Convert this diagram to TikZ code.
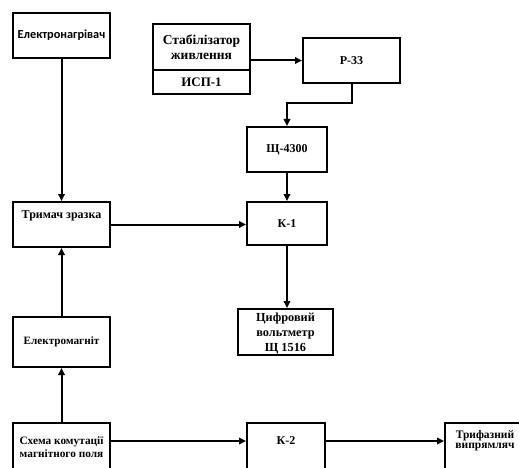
\documentclass[tikz,border=0pt]{standalone}
\usepackage{fontspec}
\setmainfont{Liberation Serif}
\newfontfamily\carlito{Carlito}
\usetikzlibrary{arrows.meta}

\begin{document}
\begin{tikzpicture}[x=1pt,y=-1pt,>={Triangle[length=7pt,width=6.5pt]},
	blok/.style={draw,line width=2pt,minimum width=97pt,minimum height=45pt,inner sep=1pt,align=center,font=\fontsize{12}{14}\selectfont\bfseries},
	link/.style={->,line width=2pt}]
	\path[use as bounding box,clip] (0,0) rectangle (519,468);
	
	\node[blok,font=\fontsize{12.3}{14}\selectfont\carlito\bfseries](HEATER) at (61.5,35.5) {Електронагрівач};
	\node[blok,minimum height=46pt,font=\fontsize{13.5}{14.5}\selectfont\bfseries](STAB) at (201.5,47) {Стабілізатор\\живлення};
	\node[blok,minimum height=24pt,font=\fontsize{13}{14}\selectfont\bfseries](ISP) at (201.5,82) {ИСП-1};
	\node[blok](R33) at (351.5,60.5) {Р-33};
	\node[blok,minimum width=80pt](SHCH) at (287,149.5) {Щ-4300};
	\node[blok,minimum width=80pt,minimum height=43pt](K1) at (287,223.5) {К-1};
	\node[blok,text depth=19pt](HOLDER) at (61.5,224.5) {Тримач зразка};
	\node[blok,minimum width=95pt,minimum height=46pt,text depth=0pt,font=\fontsize{12.3}{15}\selectfont\bfseries](VOLT) at (285.5,332) {Цифровий\\вольтметр\\Щ 1516};
	\node[blok,minimum height=50pt,font=\fontsize{11.2}{14}\selectfont\bfseries](MAGNET) at (61.5,342) {Електромагніт};
	\node[blok,minimum height=48pt,font=\fontsize{11.3}{13}\selectfont\bfseries](SCHEME) at (61.5,447) {Схема комутації\\магнітного поля};
	\node[blok,minimum width=78pt,minimum height=48pt,text depth=12pt](K2) at (286,447) {К-2};
	\node[blok,minimum width=80pt,minimum height=48pt,text depth=15pt,font=\fontsize{11.5}{10.5}\selectfont\bfseries](RECT) at (485,447) {Трифазний\\випрямляч};
	
	\coordinate (ROW) at (0,441);
	
	\draw [link] (HEATER) -- (HOLDER);
	\draw [link] (SCHEME) -- (MAGNET);
	\draw [link] (MAGNET) -- (HOLDER);
	\draw [link] (HOLDER.east) -- (HOLDER.east -| K1.west);
	\draw [link] (R33.west -| STAB.east) -- (R33.west);
	\draw [link] (R33.south) -- ++(0,19) -| (SHCH.north);
	\draw [link] (SHCH) -- (K1);
	\draw [link] (K1.south) -- (K1.south |- VOLT.north);
	\draw [link] (SCHEME.east |- ROW) -- (K2.west |- ROW);
	\draw [link] (K2.east |- ROW) -- (RECT.west |- ROW);
	
\end{tikzpicture}
\end{document}
